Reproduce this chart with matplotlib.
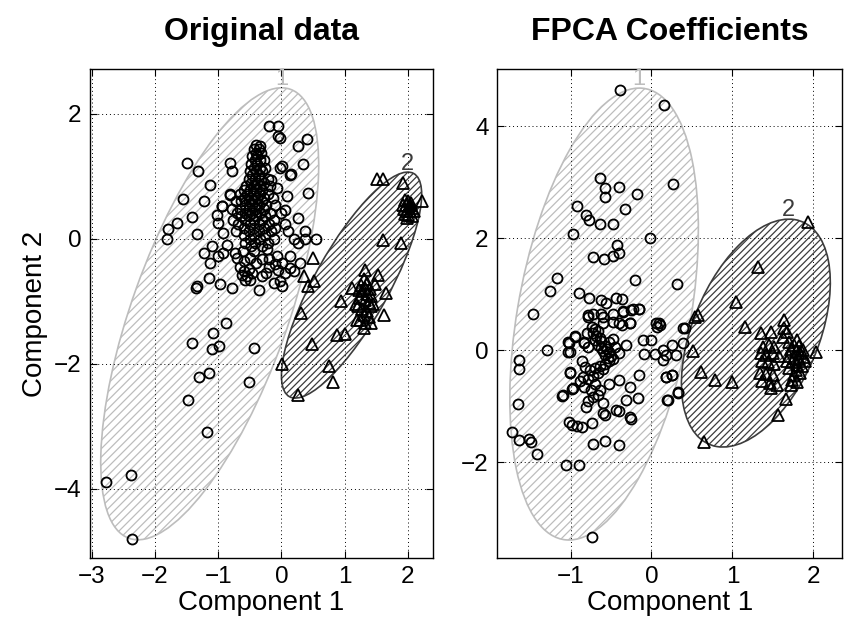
import numpy as np
import matplotlib
matplotlib.use("Agg")
import matplotlib.pyplot as plt
from matplotlib.patches import Ellipse

plt.rcParams["font.family"] = ["Liberation Sans", "DejaVu Sans"]
plt.rcParams["hatch.linewidth"] = 0.9

############### data #########################################

# --- Original data, cluster 1 (circles) ---
orig_c1 = [
    (-0.19, 1.80), (-0.06, 1.81), (-0.06, 1.65), (-0.02, 1.61), (0.40, 1.60), (0.26, 1.49),
    (-0.34, 1.48), (-1.49, 1.21), (-1.32, 1.09), (-0.81, 1.21), (-0.78, 1.09), (0.34, 1.20),
    (-1.13, 0.87), (0.15, 1.04), (0.42, 0.73), (-1.56, 0.64), (-1.23, 0.61), (-0.82, 0.72),
    (-1.65, 0.26), (-1.42, 0.35), (-0.94, 0.53), (-1.80, 0.16), (-1.81, 0.0), (-1.34, 0.08),
    (-1.10, -0.12), (-1.23, -0.22), (-1.13, -0.39), (-1.0, -0.28), (-0.92, -0.23), (-1.14, -0.63),
    (-1.35, -0.78), (-1.34, -0.76), (-0.97, -0.72), (-0.78, -0.78), (-0.74, -0.22), (-0.61, -0.19),
    (-0.44, -0.19), (-0.23, -0.17), (-0.35, -0.82), (-0.31, -0.59), (-0.19, -0.33), (-0.07, -0.27),
    (-0.12, -0.71), (-0.02, -0.68), (0.01, -0.76), (0.14, -0.28), (0.01, -0.39), (0.14, -0.47),
    (0.20, -0.52), (0.30, -0.39), (0.27, -0.07), (0.38, 0.0), (0.54, 0.0), (0.38, 0.13),
    (0.09, 0.68), (0.06, 0.46), (0.27, 0.33), (0.14, 1.03), (0.01, 1.16), (-0.02, 1.13),
    (-0.17, 0.95), (-0.07, 0.81), (-0.81, 0.71), (-0.94, 0.52), (-1.02, 0.38), (-1.0, 0.25),
    (-0.92, 0.09), (-0.86, -0.1),
    (-0.88, -1.34), (-1.08, -1.51), (-1.41, -1.66), (-1.10, -1.77), (-0.99, -1.71), (-0.43, -1.75),
    (-1.14, -2.15), (-1.30, -2.22), (-0.51, -2.30), (-1.48, -2.58), (-1.18, -3.10), (-2.38, -3.78),
    (-2.77, -3.90), (-2.36, -4.80),
    (-0.65, -0.45), (-0.60, -0.52), (-0.55, -0.60), (-0.50, -0.66), (-0.47, -0.55), (-0.58, -0.66),
    (-0.62, -0.58), (-0.52, -0.48),
    (-0.40, 1.50), (-0.36, 1.44), (-0.44, 1.44), (-0.40, 1.38), (-0.32, 1.38), (-0.46, 1.32),
    (-0.38, 1.32), (-0.42, 1.26), (-0.34, 1.26), (-0.28, 1.26), (-0.48, 1.20), (-0.38, 1.20),
    (-0.44, 1.14), (-0.34, 1.14), (-0.26, 1.14), (-0.50, 1.08), (-0.40, 1.08), (-0.30, 1.08),
    (-0.46, 1.02), (-0.36, 1.02), (-0.52, 0.96), (-0.42, 0.96), (-0.32, 0.96), (-0.22, 0.96),
    (-0.48, 0.90), (-0.38, 0.90), (-0.28, 0.90), (-0.56, 0.84), (-0.44, 0.84), (-0.34, 0.84),
    (-0.18, 0.84), (-0.60, 0.78), (-0.50, 0.78), (-0.40, 0.78), (-0.30, 0.78), (-0.66, 0.72),
    (-0.54, 0.72), (-0.44, 0.72), (-0.34, 0.72), (-0.22, 0.72), (-0.60, 0.66), (-0.48, 0.66),
    (-0.38, 0.66), (-0.28, 0.66), (-0.14, 0.66), (-0.72, 0.60), (-0.64, 0.60), (-0.52, 0.60),
    (-0.42, 0.60), (-0.30, 0.60), (-0.58, 0.54), (-0.46, 0.54), (-0.36, 0.54), (-0.24, 0.54),
    (-0.10, 0.54), (-0.78, 0.48), (-0.66, 0.48), (-0.52, 0.48), (-0.40, 0.48), (-0.28, 0.48),
    (-0.70, 0.42), (-0.58, 0.42), (-0.46, 0.42), (-0.34, 0.42), (-0.18, 0.42), (0.0, 0.42),
    (-0.64, 0.36), (-0.52, 0.36), (-0.40, 0.36), (-0.26, 0.36), (-0.76, 0.30), (-0.58, 0.30),
    (-0.44, 0.30), (-0.30, 0.30), (-0.12, 0.30), (-0.68, 0.24), (-0.50, 0.24), (-0.36, 0.24),
    (-0.20, 0.24), (0.05, 0.24), (-0.60, 0.18), (-0.44, 0.18), (-0.28, 0.18), (-0.10, 0.18),
    (-0.72, 0.12), (-0.52, 0.12), (-0.36, 0.12), (-0.16, 0.12), (0.10, 0.12), (-0.60, 0.06),
    (-0.44, 0.06), (-0.26, 0.06), (-0.50, 0.0), (-0.34, 0.0), (-0.12, 0.0), (0.20, 0.0),
    (-0.58, -0.06), (-0.42, -0.06), (-0.22, -0.06), (-0.48, -0.12), (-0.30, -0.12),
    (-0.70, -0.30), (-0.60, -0.35), (-0.50, -0.30), (-0.40, -0.38), (-0.30, -0.32), (-0.20, -0.45),
    (-0.10, -0.40), (0.05, -0.55), (-0.05, -0.50), (-0.25, -0.55),
]

# --- Original data, cluster 2 (triangles) ---
orig_c2 = [
    (1.51, 0.96), (1.61, 0.96), (1.92, 0.89), (2.23, 0.61), (1.61, -0.02), (1.89, -0.06),
    (0.50, -0.31), (0.35, -0.60), (0.51, -0.67), (0.42, -0.76), (0.31, -1.18), (1.32, -0.50),
    (1.53, -0.58), (1.12, -0.79), (1.65, -0.86), (0.94, -1.0), (1.21, -1.08), (1.41, -1.08),
    (1.62, -1.22), (1.20, -1.30), (1.41, -1.35), (0.88, -1.54), (1.0, -1.52), (0.49, -1.68),
    (0.01, -2.0), (0.75, -2.04), (0.82, -2.30), (0.27, -2.5),
    (1.95, 0.62), (2.0, 0.60), (2.05, 0.58), (1.97, 0.55), (2.02, 0.52), (2.07, 0.50),
    (1.94, 0.48), (1.99, 0.45), (2.04, 0.44), (1.96, 0.40), (2.01, 0.38), (2.06, 0.36),
    (1.98, 0.33), (2.03, 0.55), (1.93, 0.55), (2.10, 0.45),
    (1.30, -0.65), (1.36, -0.70), (1.26, -0.74), (1.33, -0.78), (1.40, -0.80), (1.28, -0.84),
    (1.35, -0.88), (1.42, -0.92), (1.25, -0.95), (1.32, -0.98), (1.38, -1.02), (1.45, -1.05),
    (1.28, -1.12), (1.35, -1.15), (1.30, -1.22), (1.38, -1.25), (1.25, -1.30), (1.33, -1.35),
    (1.30, -1.42), (1.22, -0.82), (1.48, -0.72), (1.18, -1.05),
]

# --- FPCA coefficients, cluster 1 (circles) ---
fpca_c1 = [
    (-0.39, 4.64), (0.15, 4.38), (-0.64, 3.07), (-0.58, 2.89), (-0.40, 2.91), (-0.58, 2.73),
    (-0.18, 2.79), (0.27, 2.96), (-0.92, 2.58), (-0.33, 2.52), (-0.81, 2.41), (-0.77, 2.33),
    (-0.64, 2.26), (-0.48, 2.26), (-0.97, 2.07), (-0.02, 2.01), (-0.42, 1.88), (-0.72, 1.67),
    (-0.59, 1.63), (-0.47, 1.68), (-0.40, 1.73), (-1.17, 1.28), (-1.25, 1.06), (-0.20, 1.26),
    (0.32, 1.19), (-0.90, 1.02), (-0.77, 0.94), (-0.62, 0.89), (-0.56, 0.84), (-0.44, 0.94),
    (-0.36, 0.92), (-1.46, 0.64), (-0.23, 0.73), (-0.16, 0.74), (-0.35, 0.70), (-0.78, 0.60),
    (-0.72, 0.65), (-0.60, 0.60), (-0.60, 0.48), (-0.47, 0.50), (-0.37, 0.45), (-0.27, 0.48),
    (0.09, 0.49), (0.07, 0.42), (0.41, 0.39),
    (-1.29, 0.01), (-1.64, -0.17), (-1.64, -0.33), (-1.65, -0.97), (-1.72, -1.46), (-1.64, -1.61),
    (-1.51, -1.58), (-1.49, -1.64), (-1.42, -1.85), (-1.05, -2.05), (-0.89, -2.05), (-0.72, -1.68),
    (-0.58, -1.62), (-0.40, -1.70), (-0.73, -3.33), (-1.02, -1.28), (-0.98, -1.33), (-0.92, -1.36),
    (-0.86, -1.38), (-0.74, -1.30), (-1.11, -0.82), (-1.01, -0.40), (-1.02, 0.13), (-1.03, -0.03),
    (-0.95, 0.25), (-0.83, 0.15), (-0.98, -0.70), (0.18, -0.48), (0.26, -0.45), (0.19, -0.89),
    (0.33, -0.76), (-0.25, -1.23), (-0.40, -1.08), (-0.57, -1.16),
    (-0.79, 0.63), (-0.62, 0.65), (-0.48, 0.65), (-0.35, 0.68), (-0.25, 0.71), (-0.15, 0.74),
    (-0.40, 0.48), (-0.27, 0.48), (0.06, 0.48), (0.10, 0.45), (0.39, 0.39), (-0.95, 0.24),
    (-1.03, 0.15), (-1.01, -0.03), (-0.83, 0.12), (-0.52, 0.15), (-0.31, 0.09), (-0.11, 0.18),
    (0.0, 0.19), (0.14, 0.0), (0.26, 0.09), (0.39, 0.12), (-0.09, -0.06), (0.04, -0.06),
    (0.18, -0.09), (0.30, -0.09), (0.14, -0.18), (-1.01, -0.39), (-0.97, -0.68), (-1.09, -0.8),
    (-0.85, -0.48), (-0.83, -0.65), (-0.72, -0.83), (-0.64, -0.71), (-0.52, -0.6), (-0.40, -0.54),
    (-0.27, -0.65), (-0.15, -0.45), (-0.31, -0.89), (-0.17, -0.86), (0.18, -0.48), (0.26, -0.45),
    (0.33, -0.74), (0.20, -0.89), (-0.81, -1.01), (-0.60, -1.13), (-0.44, -1.07), (-0.27, -1.19),
    (-0.74, 0.42), (-0.70, 0.38), (-0.66, 0.34), (-0.72, 0.30), (-0.68, 0.26), (-0.64, 0.22),
    (-0.70, 0.18), (-0.62, 0.16), (-0.66, 0.10), (-0.58, 0.08), (-0.62, 0.04), (-0.55, 0.02),
    (-0.60, -0.02), (-0.52, -0.04), (-0.57, -0.08), (-0.50, -0.10), (-0.54, -0.14), (-0.47, -0.16),
    (-0.52, -0.20), (-0.58, -0.24), (-0.64, -0.28), (-0.70, -0.32), (-0.76, -0.36), (-0.66, -0.40),
    (-0.72, -0.46), (-0.78, -0.52), (-0.60, -0.34), (-0.80, 0.30), (-0.78, 0.05), (-0.45, 0.05),
    (-0.40, -0.05), (-0.48, 0.20), (-0.86, -0.20), (-0.82, -0.30), (-0.88, -0.55), (-0.70, -0.60),
    (-0.75, -0.72), (-0.66, -0.80), (-0.78, -0.90), (-0.60, -0.95),
]

# --- FPCA coefficients, cluster 2 (triangles) ---
fpca_c2 = [
    (1.93, 2.28), (1.32, 1.49), (1.04, 0.86), (0.54, 0.60), (0.57, 0.62), (1.15, 0.42),
    (1.35, 0.31), (1.48, 0.33), (1.64, 0.54), (1.64, 0.39), (1.62, 0.24), (0.51, -0.01),
    (0.61, -0.39), (0.79, -0.54), (1.0, -0.57), (0.65, -1.64), (1.66, -0.88), (1.56, -1.15),
    (2.03, -0.03), (1.87, 0.0), (1.74, -0.54), (1.80, -0.57), (1.72, -0.62), (1.68, 0.32),
    (1.38, 0.05), (1.45, 0.10), (1.52, 0.06), (1.35, -0.05), (1.42, -0.08), (1.50, -0.05),
    (1.58, -0.10), (1.36, -0.20), (1.44, -0.22), (1.52, -0.25), (1.34, -0.40), (1.42, -0.42),
    (1.50, -0.45), (1.36, -0.55), (1.46, -0.58), (1.55, -0.62), (1.48, -0.68),
    (1.70, 0.15), (1.76, 0.10), (1.82, 0.08), (1.72, 0.02), (1.78, -0.02), (1.84, -0.05),
    (1.70, -0.10), (1.76, -0.14), (1.82, -0.16), (1.88, -0.12), (1.74, -0.22), (1.80, -0.26),
    (1.86, -0.28), (1.70, -0.32), (1.78, -0.36), (1.84, -0.40), (1.76, -0.45), (1.90, -0.20),
    (1.68, -0.20), (1.80, 0.18),
]

# fitted gaussian components: center and covariance (2 sigma contour)
orig_centers = [(-1.135, -1.20), (1.11, -0.74)]
orig_covs = [[[2.976, 4.11], [4.11, 13.10]], [[1.232, 1.61], [1.61, 3.276]]]
fpca_centers = [(-0.585, 0.645), (1.29, 0.305)]
fpca_covs = [[[1.357, 1.755], [1.755, 16.28]], [[0.846, 0.83], [0.83, 4.14]]]

panel_titles = ["Original data", "FPCA Coefficients"]
cluster_labels = ["1", "2"]

############### plotting ####################

ELL_EDGE = ["#bdbdbd", "#3c3c3c"]
ELL_HATCH = ["////", "/////"]


def draw_cluster_ellipse(ax, center, cov, k):
    cov = np.array(cov)
    vals, vecs = np.linalg.eigh(cov)
    angle = np.degrees(np.arctan2(vecs[1, 1], vecs[0, 1]))
    ell = Ellipse(
        center,
        width=2 * np.sqrt(vals[1]),
        height=2 * np.sqrt(vals[0]),
        angle=angle,
        facecolor="white",
        edgecolor=ELL_EDGE[k],
        hatch=ELL_HATCH[k],
        linewidth=1.2,
        zorder=1 + k,
    )
    ax.add_patch(ell)
    # label sits on the top point of the ellipse
    top_x = center[0] + cov[0, 1] / np.sqrt(cov[1, 1])
    top_y = center[1] + np.sqrt(cov[1, 1])
    ax.text(top_x, top_y - 0.04, cluster_labels[k], color=ELL_EDGE[k], fontsize=17,
            ha="center", va="bottom", zorder=5)


def style_axes(ax, title, xlim, ylim, xticks, yticks):
    ax.set_xlim(xlim)
    ax.set_ylim(ylim)
    ax.set_xticks(xticks)
    ax.set_yticks(yticks)
    ax.tick_params(direction="in", top=True, right=True, length=5, labelsize=17.5,
                   width=0.8, pad=6)
    ax.grid(True, color="black", linestyle=(0, (1, 3)), linewidth=0.7)
    ax.set_axisbelow(False)
    for s in ax.spines.values():
        s.set_linewidth(1.0)
    ax.set_title(title, fontsize=23, fontweight="bold", pad=21)
    ax.set_xlabel("Component 1", fontsize=20, labelpad=1)


def draw_panel(ax, c1, c2, centers, covs):
    for k in range(2):
        draw_cluster_ellipse(ax, centers[k], covs[k], k)
    c1 = np.array(c1)
    c2 = np.array(c2)
    ax.plot(c1[:, 0], c1[:, 1], "o", mfc="none", mec="black", ms=7.2, mew=1.3, zorder=4)
    ax.plot(c2[:, 0], c2[:, 1], "^", mfc="none", mec="black", ms=8.5, mew=1.3, zorder=4)


fig = plt.figure(figsize=(8.45, 6.22), dpi=100)
ax1 = fig.add_axes([0.1065, 0.103, 0.406, 0.786])
ax2 = fig.add_axes([0.588, 0.103, 0.409, 0.786])

draw_panel(ax1, orig_c1, orig_c2, orig_centers, orig_covs)
style_axes(ax1, panel_titles[0], (-3.03, 2.4), (-5.11, 2.72), [-3, -2, -1, 0, 1, 2], [-4, -2, 0, 2])
ax1.set_ylabel("Component 2", fontsize=20, labelpad=4)

draw_panel(ax2, fpca_c1, fpca_c2, fpca_centers, fpca_covs)
style_axes(ax2, panel_titles[1], (-1.91, 2.36), (-3.71, 5.02), [-1, 0, 1, 2], [-2, 0, 2, 4])

fig.savefig("out.png", dpi=100)
